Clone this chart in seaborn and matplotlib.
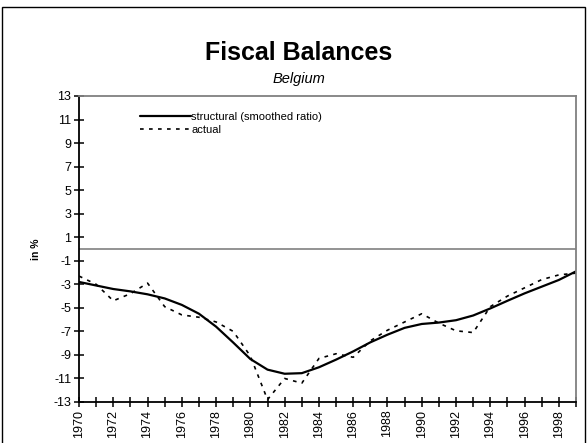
import matplotlib
matplotlib.use("Agg")
import matplotlib.pyplot as plt
import seaborn as sns
import pandas as pd
from matplotlib.patches import Rectangle

years = list(range(1970, 2000))
structural = [-2.8, -3.1, -3.4, -3.6, -3.85, -4.2, -4.75, -5.5, -6.6, -7.95,
              -9.35, -10.25, -10.6, -10.55, -10.05, -9.4, -8.7, -7.93, -7.28, -6.7,
              -6.37, -6.25, -6.05, -5.65, -5.05, -4.4, -3.77, -3.2, -2.63, -1.9]
actual = [-2.3, -3.0, -4.4, -3.8, -2.9, -4.9, -5.6, -5.8, -6.2, -7.0,
          -9.1, -12.8, -11.0, -11.4, -9.3, -8.9, -9.2, -7.8, -6.9, -6.2,
          -5.5, -6.3, -6.95, -7.1, -4.9, -4.0, -3.3, -2.6, -2.2, -2.05]
series_names = ["structural (smoothed ratio)", "actual"]
title = "Fiscal Balances"
subtitle = "Belgium"
ylabel = "in %"
yticks = list(range(-13, 14, 2))

sns.set_style("white")
plt.rcParams['font.family'] = ['Liberation Sans', 'DejaVu Sans']
for k in ["text.color", "axes.labelcolor", "xtick.color", "ytick.color"]:
    plt.rcParams[k] = "black"
plt.rcParams["xtick.bottom"] = True
plt.rcParams["ytick.left"] = True

df = pd.DataFrame({"year": years, series_names[0]: structural, series_names[1]: actual})

fig = plt.figure(figsize=(5.87, 4.43), dpi=100)
ax = fig.add_axes([79/587, 1-402/443, (576-79)/587, (402-96)/443])

sns.lineplot(data=df, x="year", y=series_names[0], ax=ax, color="black", lw=1.6,
             label=series_names[0])
sns.lineplot(data=df, x="year", y=series_names[1], ax=ax, color="black", lw=1.2,
             label=series_names[1])
ax.lines[1].set_dashes([2.2, 3.2])

ax.axhline(0, color="#808080", lw=1.2, zorder=1)

ax.set_xlim(1970, 1999)
ax.set_ylim(-13, 13)
ax.set_yticks(yticks)
ax.set_yticklabels([str(t) for t in yticks], fontsize=9)
ax.set_xticks(years)
ax.set_xticklabels([str(y) if y % 2 == 0 else "" for y in years], rotation=90, fontsize=9)
ax.xaxis.set_tick_params(which="major", direction="inout", length=7, width=1.1,
                         color="black", pad=2, bottom=True, top=False)
ax.yaxis.set_tick_params(which="major", direction="inout", length=7, width=1.1,
                         color="black", pad=2, left=True, right=False)
ax.set_xlabel("")
ax.set_ylabel(ylabel, fontsize=7.5, fontweight="bold", labelpad=9)

for s in ["left", "bottom"]:
    ax.spines[s].set_color("black")
    ax.spines[s].set_linewidth(1.3)
for s in ["top", "right"]:
    ax.spines[s].set_color("#808080")
    ax.spines[s].set_linewidth(1.3)

leg = ax.legend(loc="upper left", bbox_to_anchor=((140-79)/497, (402-112)/306),
                frameon=False, fontsize=8, handlelength=4.6, handletextpad=0.0,
                labelspacing=0.25, borderaxespad=0, borderpad=0)
leg.get_lines()[1].set_dashes([2.2, 3.2])

fig.text(299/587, 1-53/443, title, ha="center", va="center", fontsize=18, fontweight="bold")
fig.text(299/587, 1-79/443, subtitle, ha="center", va="center", fontsize=10.5, style="italic")

fig.patches.append(Rectangle((2/587, -0.05), (585-2)/587, 1-7/443+0.05, transform=fig.transFigure,
                             fill=False, edgecolor="black", lw=1.0))

fig.savefig("out.png", dpi=100)
